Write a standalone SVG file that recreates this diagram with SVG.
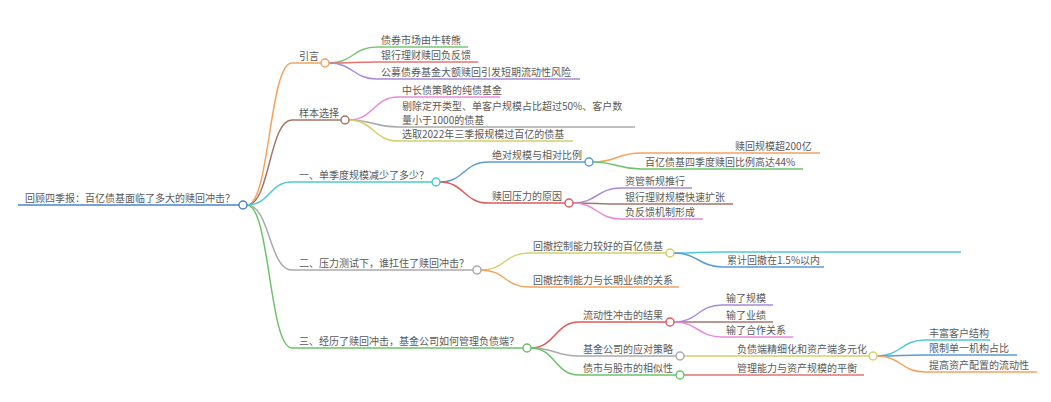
<svg xmlns="http://www.w3.org/2000/svg" width="1051" height="402" viewBox="0 0 1051 402">
<style>
text{font-family:"Noto Sans CJK SC","Liberation Sans",sans-serif;font-size:10px;fill:#5a5a5a}
.l{fill:none;stroke-width:1.5}
circle{fill:#fff;stroke-width:1.5}
</style>
<rect width="1051" height="402" fill="#fff"/>
<g id="connectors">
<path class="l" stroke="#4a86c8" d="M18 205H239"/>
<path class="l" stroke="#f5a25d" d="M247 205C270 205 269 63 292 63H321"/>
<path class="l" stroke="#a5776b" d="M247 205C270 205 269 120 292 120H341"/>
<path class="l" stroke="#4fc8da" d="M247 205C270 205 269 182 292 182H432"/>
<path class="l" stroke="#aaaaaa" d="M247 205C270 205 269 270 292 270H473"/>
<path class="l" stroke="#6cc26c" d="M247 205C270 205 269 348 292 348H523"/>
<path class="l" stroke="#7cc576" d="M329 63C353 63 353 47 377 47H468"/>
<path class="l" stroke="#e57373" d="M329 63C353 63 353 62 377 62H478"/>
<path class="l" stroke="#a98ad8" d="M329 63C353 63 353 79 377 79H580"/>
<path class="l" stroke="#e88ad8" d="M349 120C373 120 374 97 398 97H500"/>
<path class="l" stroke="#aaaaaa" d="M349 120C373 120 374 127 398 127H635"/>
<path class="l" stroke="#d4cf6a" d="M349 120C373 120 374 141 398 141H573"/>
<path class="l" stroke="#5b9bd5" d="M440 182C464 182 464 162 488 162H585"/>
<path class="l" stroke="#e05a5a" d="M440 182C464 182 464 203 488 203H565"/>
<path class="l" stroke="#f5a25d" d="M593 162C617 162 617 153 641 153H820"/>
<path class="l" stroke="#6cc26c" d="M593 162C617 162 617 169 641 169H803"/>
<path class="l" stroke="#a98ad8" d="M573 203C597 203 597 188 621 188H692"/>
<path class="l" stroke="#a5776b" d="M573 203C597 203 597 204 621 204H733"/>
<path class="l" stroke="#e88ad8" d="M573 203C597 203 597 219 621 219H703"/>
<path class="l" stroke="#d4cf6a" d="M481 270C505 270 505 253 529 253H666"/>
<path class="l" stroke="#f5a25d" d="M481 270C505 270 505 287 529 287H679"/>
<path class="l" stroke="#4fc8da" d="M674 253C698 253 699 252 723 252H961"/>
<path class="l" stroke="#5b9bd5" d="M674 253C698 253 699 267 723 267H824"/>
<path class="l" stroke="#e05a5a" d="M531 348C555 348 555 322 579 322H666"/>
<path class="l" stroke="#aaaaaa" d="M531 348C555 348 555 356 579 356H676"/>
<path class="l" stroke="#6cc26c" d="M531 348C555 348 555 375 579 375H676"/>
<path class="l" stroke="#a98ad8" d="M674 322C698 322 698 305 722 305H773"/>
<path class="l" stroke="#a5776b" d="M674 322C698 322 698 322 722 322H773"/>
<path class="l" stroke="#e88ad8" d="M674 322C698 322 698 337 722 337H793"/>
<path class="l" stroke="#d4cf6a" d="M684 356C708 356 709 356 733 356H869"/>
<path class="l" stroke="#e57373" d="M684 375C708 375 709 375 733 375H864"/>
<path class="l" stroke="#4fc8da" d="M877 356C901 356 901 340 925 340H990"/>
<path class="l" stroke="#5b9bd5" d="M877 356C901 356 901 355 925 355H1017"/>
<path class="l" stroke="#f5a25d" d="M877 356C901 356 901 372 925 372H1037"/>
</g>
<g id="root"><text x="25" y="202">回顾四季报：百亿债基面临了多大的赎回冲击？</text><circle cx="243" cy="205" r="4" stroke="#4a86c8"/></g>
<g id="n-yinyan"><text x="299" y="60">引言</text><circle cx="325" cy="63" r="4" stroke="#f5a25d"/></g>
<g id="n-yinyan-1"><text x="381" y="44">债券市场由牛转熊</text></g>
<g id="n-yinyan-2"><text x="381" y="59">银行理财赎回负反馈</text></g>
<g id="n-yinyan-3"><text x="381" y="76">公募债券基金大额赎回引发短期流动性风险</text></g>
<g id="n-yangben"><text x="299" y="117">样本选择</text><circle cx="345" cy="120" r="4" stroke="#a5776b"/></g>
<g id="n-yangben-1"><text x="402" y="94">中长债策略的纯债基金</text></g>
<g id="n-yangben-2"><text x="402" y="110">剔除定开类型、单客户规模占比超过50%、客户数</text><text x="402" y="124">量小于1000的债基</text></g>
<g id="n-yangben-3"><text x="402" y="138">选取2022年三季报规模过百亿的债基</text></g>
<g id="n-1"><text x="299" y="179">一、单季度规模减少了多少？</text><circle cx="436" cy="182" r="4" stroke="#4fc8da"/></g>
<g id="n-1-1"><text x="492" y="159">绝对规模与相对比例</text><circle cx="589" cy="162" r="4" stroke="#5b9bd5"/></g>
<g id="n-1-1-1"><text x="735" y="150">赎回规模超200亿</text></g>
<g id="n-1-1-2"><text x="645" y="166">百亿债基四季度赎回比例高达44%</text></g>
<g id="n-1-2"><text x="492" y="200">赎回压力的原因</text><circle cx="569" cy="203" r="4" stroke="#e05a5a"/></g>
<g id="n-1-2-1"><text x="625" y="185">资管新规推行</text></g>
<g id="n-1-2-2"><text x="625" y="201">银行理财规模快速扩张</text></g>
<g id="n-1-2-3"><text x="625" y="216">负反馈机制形成</text></g>
<g id="n-2"><text x="299" y="267">二、压力测试下，谁扛住了赎回冲击？</text><circle cx="477" cy="270" r="4" stroke="#aaaaaa"/></g>
<g id="n-2-1"><text x="533" y="250">回撤控制能力较好的百亿债基</text><circle cx="670" cy="253" r="4" stroke="#d4cf6a"/></g>
<g id="n-2-1-2"><text x="727" y="264">累计回撤在1.5%以内</text></g>
<g id="n-2-2"><text x="533" y="284">回撤控制能力与长期业绩的关系</text></g>
<g id="n-3"><text x="299" y="345">三、经历了赎回冲击，基金公司如何管理负债端？</text><circle cx="527" cy="348" r="4" stroke="#6cc26c"/></g>
<g id="n-3-1"><text x="583" y="319">流动性冲击的结果</text><circle cx="670" cy="322" r="4" stroke="#e05a5a"/></g>
<g id="n-3-1-1"><text x="726" y="302">输了规模</text></g>
<g id="n-3-1-2"><text x="726" y="319">输了业绩</text></g>
<g id="n-3-1-3"><text x="726" y="334">输了合作关系</text></g>
<g id="n-3-2"><text x="583" y="353">基金公司的应对策略</text><circle cx="680" cy="356" r="4" stroke="#aaaaaa"/></g>
<g id="n-3-2-1"><text x="737" y="353">负债端精细化和资产端多元化</text><circle cx="873" cy="356" r="4" stroke="#d4cf6a"/></g>
<g id="n-3-2-1-1"><text x="929" y="337">丰富客户结构</text></g>
<g id="n-3-2-1-2"><text x="929" y="352">限制单一机构占比</text></g>
<g id="n-3-2-1-3"><text x="929" y="369">提高资产配置的流动性</text></g>
<g id="n-3-3"><text x="583" y="372">债市与股市的相似性</text><circle cx="680" cy="375" r="4" stroke="#6cc26c"/></g>
<g id="n-3-3-1"><text x="737" y="372">管理能力与资产规模的平衡</text></g>
</svg>
